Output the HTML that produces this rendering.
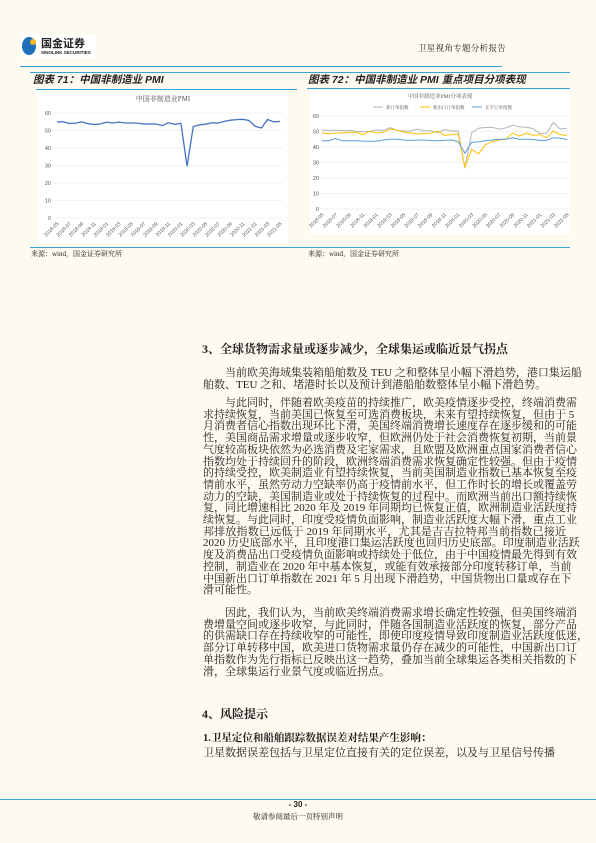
<!DOCTYPE html>
<html><head><meta charset="utf-8">
<style>
body{margin:0;background:#fefaf0;}
#page{position:relative;width:596px;height:843px;background:#fefaf0;overflow:hidden;font-family:"Liberation Serif","Noto Serif CJK SC",serif;color:#222;}
.ab{position:absolute;}
.ln{position:absolute;left:203px;width:363px;font-size:11px;line-height:12px;height:12px;white-space:nowrap;text-align:justify;text-align-last:justify;}
.ln.ind{left:225px;width:341px;}
.ln.last{text-align-last:left;}
.h{position:absolute;font-weight:bold;font-size:12px;white-space:nowrap;}
.ct{position:absolute;font-weight:bold;font-style:italic;font-size:10.5px;white-space:nowrap;font-family:"Liberation Sans","Noto Sans CJK SC",sans-serif;}
.src{position:absolute;font-size:7px;white-space:nowrap;}
</style></head><body>
<div id="page">
<div class="ab" style="left:20px;top:34px;width:76px;height:24px;background:#fff;"></div>
<div class="ab" style="left:22px;top:37px;width:14px;height:18px;border-radius:50%;background:#1d6fb8;"></div>
<div class="ab" style="left:30px;top:39px;width:6px;height:6px;border-radius:50%;background:#f5b21b;"></div>
<div class="ab" style="left:41px;top:35px;font-size:11px;font-weight:bold;font-family:'Liberation Sans','Noto Sans CJK SC',sans-serif;">国金证券</div>
<div class="ab" style="left:41px;top:50px;font-size:4.5px;font-weight:bold;font-family:'Liberation Sans',sans-serif;">SINOLINK SECURITIES</div>
<div class="ab" style="left:418px;top:42px;font-size:8.5px;letter-spacing:0.3px;">卫星视角专题分析报告</div>
<div class="ab" style="left:20px;top:66px;width:482px;height:1px;background:#3aa0d8;"></div>

<div class="ab" style="left:30px;top:72px;width:540px;height:1px;background:#3aa0d8;"></div>
<div class="ct" style="left:33px;top:72px;">图表 71：中国非制造业 PMI</div>
<div class="ct" style="left:308px;top:72px;">图表 72：中国非制造业 PMI 重点项目分项表现</div>
<div class="ab" style="left:36px;top:89px;width:261px;height:1px;background:#3aa0d8;"></div>
<div class="ab" style="left:307px;top:88px;width:263px;height:1px;background:#3aa0d8;"></div>

<svg class="ab" style="left:0;top:0" width="596" height="260">
<rect x="37" y="90" width="251" height="153" fill="#fff"/>
<rect x="310" y="89" width="260" height="145" fill="#fff"/>
<g id="c1"></g><g id="c2"></g>
</svg>

<div class="ab" style="left:30px;top:247px;width:540px;height:1px;background:#3aa0d8;"></div>
<div class="src" style="left:31px;top:249px;">来源：wind，国金证券研究所</div>
<div class="src" style="left:308px;top:249px;">来源：wind，国金证券研究所</div>

<div class="h" style="left:202px;top:340px;">3、全球货物需求量或逐步减少，全球集运或临近景气拐点</div>
<div>
<div class="ln ind" style="top:367px">当前欧美海域集装箱船舶数及 TEU 之和整体呈小幅下滑趋势，港口集运船</div>
<div class="ln last" style="top:379px">舶数、TEU 之和、堵港时长以及预计到港船舶数整体呈小幅下滑趋势。</div>
<div class="ln ind" style="top:397px">与此同时，伴随着欧美疫苗的持续推广，欧美疫情逐步受控，终端消费需</div>
<div class="ln" style="top:408.7px">求持续恢复，当前美国已恢复至可选消费板块，未来有望持续恢复，但由于 5</div>
<div class="ln" style="top:420.4px">月消费者信心指数出现环比下滑，美国终端消费增长速度存在逐步缓和的可能</div>
<div class="ln" style="top:432.1px">性，美国商品需求增量或逐步收窄，但欧洲仍处于社会消费恢复初期，当前景</div>
<div class="ln" style="top:443.8px">气度较高板块依然为必选消费及宅家需求，且欧盟及欧洲重点国家消费者信心</div>
<div class="ln" style="top:455.5px">指数均处于持续回升的阶段，欧洲终端消费需求恢复确定性较强。但由于疫情</div>
<div class="ln" style="top:467.2px">的持续受控，欧美制造业有望持续恢复，当前美国制造业指数已基本恢复至疫</div>
<div class="ln" style="top:478.9px">情前水平，虽然劳动力空缺率仍高于疫情前水平，但工作时长的增长或覆盖劳</div>
<div class="ln" style="top:490.6px">动力的空缺，美国制造业或处于持续恢复的过程中。而欧洲当前出口额持续恢</div>
<div class="ln" style="top:502.3px">复，同比增速相比 2020 年及 2019 年同期均已恢复正值，欧洲制造业活跃度持</div>
<div class="ln" style="top:514px">续恢复。与此同时，印度受疫情负面影响，制造业活跃度大幅下滑，重点工业</div>
<div class="ln" style="top:525.7px">邦排放指数已远低于 2019 年同期水平，尤其是吉吉拉特邦当前指数已接近</div>
<div class="ln" style="top:537.4px">2020 历史底部水平，且印度港口集运活跃度也回归历史底部。印度制造业活跃</div>
<div class="ln" style="top:549.1px">度及消费品出口受疫情负面影响或持续处于低位，由于中国疫情最先得到有效</div>
<div class="ln" style="top:560.8px">控制，制造业在 2020 年中基本恢复，或能有效承接部分印度转移订单，当前</div>
<div class="ln" style="top:572.5px">中国新出口订单指数在 2021 年 5 月出现下滑趋势，中国货物出口量或存在下</div>
<div class="ln last" style="top:584.2px">滑可能性。</div>
<div class="ln ind" style="top:607px">因此，我们认为，当前欧美终端消费需求增长确定性较强，但美国终端消</div>
<div class="ln" style="top:618.7px">费增量空间或逐步收窄，与此同时，伴随各国制造业活跃度的恢复，部分产品</div>
<div class="ln" style="top:630.4px">的供需缺口存在持续收窄的可能性，即使印度疫情导致印度制造业活跃度低迷，</div>
<div class="ln" style="top:642.1px">部分订单转移中国，欧美进口货物需求量仍存在减少的可能性，中国新出口订</div>
<div class="ln" style="top:653.8px">单指数作为先行指标已反映出这一趋势，叠加当前全球集运各类相关指数的下</div>
<div class="ln last" style="top:665.5px">滑，全球集运行业景气度或临近拐点。</div>
</div>
<div class="h" style="left:202px;top:705px;">4、风险提示</div>
<div class="h" style="left:203px;top:730px;font-size:10.5px;">1.卫星定位和船舶跟踪数据误差对结果产生影响：</div>
<div class="ln last" style="top:747px;width:auto;">卫星数据误差包括与卫星定位直接有关的定位误差，以及与卫星信号传播</div>

<div class="ab" style="left:0;top:799px;width:596px;height:1px;background:#3aa0d8;"></div>
<div class="ab" style="left:0;width:596px;top:800px;text-align:center;font-size:8px;font-weight:bold;font-family:'Liberation Sans',sans-serif;">- 30 -</div>
<div class="ab" style="left:0;width:596px;top:811px;text-align:center;font-size:7.5px;">敬请参阅最后一页特别声明</div>
</div>
<script>
const months=["2018-05","2018-06","2018-07","2018-08","2018-09","2018-10","2018-11","2018-12","2019-01","2019-02","2019-03","2019-04","2019-05","2019-06","2019-07","2019-08","2019-09","2019-10","2019-11","2019-12","2020-01","2020-02","2020-03","2020-04","2020-05","2020-06","2020-07","2020-08","2020-09","2020-10","2020-11","2020-12","2021-01","2021-02","2021-03","2021-04","2021-05"];
const pmi=[54.9,55.0,54.0,54.2,54.9,53.9,53.4,53.8,54.7,54.3,54.8,54.3,54.3,54.2,53.7,53.8,53.7,52.8,54.4,53.5,54.1,29.6,52.3,53.2,53.6,54.4,54.2,55.2,55.9,56.2,56.4,55.7,52.4,51.4,56.3,54.9,55.2];
const newOrders=[51.0,50.7,50.9,50.6,50.7,50.1,49.9,50.1,51.0,50.7,52.5,50.8,50.3,50.3,51.5,50.6,50.5,49.4,51.3,50.3,50.4,26.5,49.2,52.1,52.6,52.7,51.5,52.3,54.0,53.0,52.8,51.9,48.7,48.9,55.9,51.5,52.2];
const exportOrders=[49.0,48.5,49.0,49.0,49.5,49.5,48.0,50.0,49.0,49.5,51.5,51.0,49.5,49.0,48.5,48.5,49.0,50.3,47.5,48.0,48.5,27.0,38.5,35.5,41.5,43.5,44.5,45.0,49.0,47.0,49.0,47.5,48.0,46.0,50.3,48.0,47.5];
const backlog=[44.0,44.0,45.5,44.0,44.0,44.0,43.8,43.7,43.8,44.5,45.0,45.0,44.5,44.3,44.4,44.4,44.2,44.0,44.3,44.5,43.5,36.0,43.0,43.3,44.0,44.5,45.0,45.0,46.0,45.0,45.0,44.8,44.3,44.3,46.0,45.7,44.8];
const yTicks=[0,10,20,30,40,50,60];
const NS="http://www.w3.org/2000/svg";
function mk(p,t,a){const e=document.createElementNS(NS,t);for(const k in a)e.setAttribute(k,a[k]);p.appendChild(e);return e;}
function drawChart(g,x0,x1,y0,y1,labX,series,prefix){
  const xs=i=>x0+i*(x1-x0)/(months.length-1);
  const ys=v=>y0-(v/60)*(y0-y1);
  yTicks.forEach(t=>{
    const l=mk(g,"line",{x1:x0-3,x2:x1+3,y1:ys(t),y2:ys(t),stroke:"#e4e4e4","stroke-width":0.5});
    
    
    const tx=mk(g,"text",{x:labX,y:ys(t)+2,"font-size":5.5,"text-anchor":"end",fill:"#555","font-family":"Liberation Sans"});
    tx.textContent=t;
    
    
  });
  months.forEach((m,i)=>{
    if(i%2)return;
    const tx=mk(g,"text",{x:xs(i)+2,y:y0+6,"font-size":5,"text-anchor":"end",fill:"#555","font-family":"Liberation Sans",transform:`rotate(-45 ${xs(i)+2} ${y0+6})`});
    tx.textContent=m;
    
    
  });
  series.forEach(s=>{
    const p=mk(g,"polyline",{points:s.data.map((v,i)=>xs(i)+","+ys(v)).join(" "),fill:"none",stroke:s.color,"stroke-width":s.w});
    
    
  });
}
const g1=document.getElementById("c1"),g2=document.getElementById("c2");
drawChart(g1,57,280,218,113,51,[{data:pmi,color:"#4472c4",w:1.3,name:"pmi-line"}],"chart-71");
drawChart(g2,322,567,209,116,319,[{data:newOrders,color:"#b4b4b4",w:1,name:"new-orders-line"},{data:exportOrders,color:"#ffc000",w:1,name:"new-export-orders-line"},{data:backlog,color:"#5b9bd5",w:1,name:"backlog-orders-line"}],"chart-72");
let t=mk(g1,"text",{x:163,y:101,"font-size":7,"text-anchor":"middle",fill:"#555"});t.textContent="中国非制造业PMI";


t=mk(g2,"text",{x:440,y:98,"font-size":5.5,"text-anchor":"middle",fill:"#555"});t.textContent="中国非制造业PMI分项表现";


const legendNames=["新订单指数","新出口订单指数","在手订单指数"];
const legendColors=["#b4b4b4","#ffc000","#5b9bd5"];
const legendX=[373,420,472];
legendNames.forEach((n,i)=>{
  const l=mk(g2,"line",{x1:legendX[i],x2:legendX[i]+10,y1:107,y2:107,stroke:legendColors[i],"stroke-width":1});
  
  
  const tx=mk(g2,"text",{x:legendX[i]+13,y:109,"font-size":4.5,fill:"#555"});tx.textContent=n;
  
  
});
</script>
</body></html>
